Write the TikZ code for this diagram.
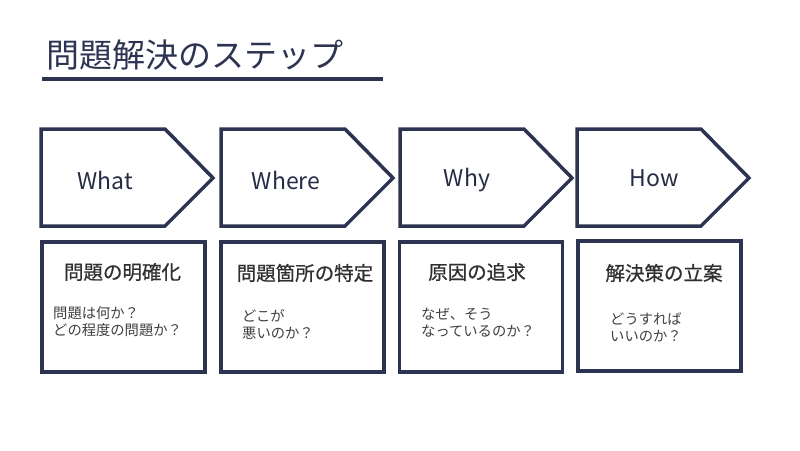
\documentclass[tikz,border=0pt]{standalone}
\usepackage{fontspec}
\setmainfont{Noto Sans CJK JP}
\newfontfamily\headfont[FakeBold=0.7]{Noto Sans CJK JP}
\definecolor{navy}{HTML}{2C3451}
\definecolor{headc}{HTML}{303030}
\definecolor{bodyc}{HTML}{404040}
\tikzset{
  pent/.style={draw=navy, line width=3.5pt, line join=miter},
  boxstyle/.style={draw=navy, line width=3.5pt, minimum width=163pt, minimum height=130pt, inner sep=0pt},
  lab/.style={text=navy!85!black, font=\fontsize{23}{26}\selectfont, inner sep=0pt},
  head/.style={text=headc, font=\headfont\fontsize{19.5}{22}\selectfont, inner sep=0pt},
  bodytxt/.style={text=bodyc, font=\fontsize{14.3}{17}\selectfont, align=left, anchor=west, inner sep=0pt}
}
\begin{document}
\begin{tikzpicture}[x=1pt,y=-1pt]
\useasboundingbox[fill=white] (0,0) rectangle (800,450);
% title
\node[anchor=west, inner sep=0pt, text=navy, font=\fontsize{33}{36}\selectfont] (title) at (46,55) {問題解決のステップ};
\coordinate (ul1) at (42,79);
\coordinate (ul2) at (383,79);
\draw[navy, line width=3.5pt] (ul1) -- (ul2);
% pentagons
\foreach \x/\n in {41/1, 221/2, 400/3, 577/4}{
  \draw[pent] (\x,129) -- (\x+124,129) -- (\x+172,178) -- (\x+124,226) -- (\x,226) -- cycle;
}
\node[lab] (p1) at (105,180) {What};
\node[lab] (p2) at (286,180) {Where};
\node[lab] (p3) at (467,180) {Why};
\node[lab] (p4) at (654,178) {How};
% boxes
\node[boxstyle] (b1) at (123.5,307) {};
\node[boxstyle] (b2) at (302.5,307) {};
\node[boxstyle] (b3) at (481,307) {};
\node[boxstyle] (b4) at (659.5,306) {};
% headings
\node[head] (h1) at (122.5,272) {問題の明確化};
\node[head] (h2) at (305,273) {問題箇所の特定};
\node[head] (h3) at (477,272) {原因の追求};
\node[head] (h4) at (664,273) {解決策の立案};
% body text
\node[bodytxt] (t1) at (53,321.5) {問題は何か？\\どの程度の問題か？};
\node[bodytxt] (t2) at (242,324) {どこが\\悪いのか？};
\node[bodytxt] (t3) at (421,323) {なぜ、そう\\なっているのか？};
\node[bodytxt] (t4) at (610,327.5) {どうすれば\\いいのか？};
\end{tikzpicture}
\end{document}
